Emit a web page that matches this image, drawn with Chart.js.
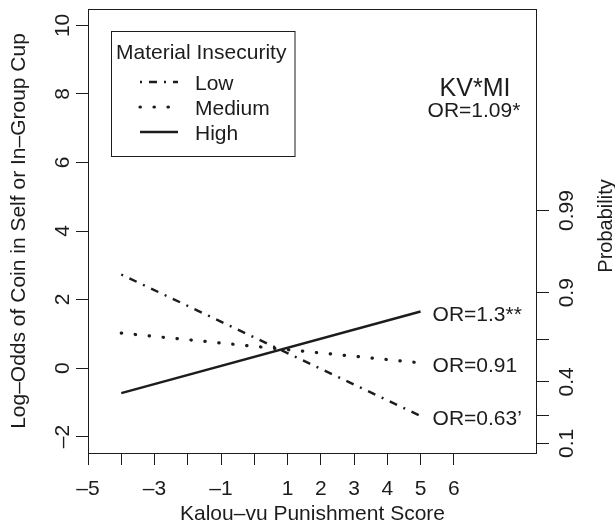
<!DOCTYPE html>
<html><head><meta charset="utf-8">
<script src="https://cdn.jsdelivr.net/npm/chart.js@4/dist/chart.umd.min.js"></script>
<style>html,body{margin:0;padding:0;background:#fff}canvas{display:block}</style>
</head><body>
<canvas id="c" width="615" height="528"></canvas>
<script>
// ---- data ----
const kvScore = [-4, 5];
const lowMI = [2.73, -1.40];
const mediumMI = [1.02, 0.15];
const highMI = [-0.73, 1.65];
const seriesNames = ['Low', 'Medium', 'High'];
const orLabels = ['OR=0.63’', 'OR=0.91', 'OR=1.3**'];
const xTicks = [-5, -4, -3, -2, -1, 0, 1, 2, 3, 4, 5, 6];
const xTickLabels = ['–5', '', '–3', '', '–1', '', '1', '2', '3', '4', '5', '6'];
const yTicks = [-2, 0, 2, 4, 6, 8, 10];
const yTickLabels = ['–2', '0', '2', '4', '6', '8', '10'];
const probTicks = [0.1, 0.2, 0.4, 0.7, 0.9, 0.99];
const probTickLabels = ['0.1', '', '0.4', '', '0.9', '0.99'];
const legendTitle = 'Material Insecurity';
const panelTitle = 'KV*MI';
const panelOR = 'OR=1.09*';
const xTitle = 'Kalou–vu Punishment Score';
const yTitle = 'Log–Odds of Coin in Self or In–Group Cup';
const y2Title = 'Probability';

const INK = '#1c1c1c';
const FONT = '"Liberation Sans", Arial, Helvetica, sans-serif';
const logit = p => Math.log(p / (1 - p));
const pts = ys => kvScore.map((x, i) => ({ x: x, y: ys[i] }));

const styles = [
  { borderWidth: 2.4, borderDash: [2, 7, 8, 7], borderCapStyle: 'butt' },
  { borderWidth: 3.2, borderDash: [0.4, 13.6], borderCapStyle: 'round' },
  { borderWidth: 2.4, borderDash: [], borderCapStyle: 'butt' }
];
const seriesData = [lowMI, mediumMI, highMI];

const datasets = seriesData.map((d, i) => Object.assign({
  label: seriesNames[i], data: pts(d), borderColor: INK, pointRadius: 0,
  fill: false, tension: 0, yAxisID: 'y'
}, styles[i]));

const gridOpts = { drawOnChartArea: false, drawTicks: true, tickLength: 12, color: INK, lineWidth: 1 };

const drawPlugin = {
  id: 'rstyle',
  afterDraw(chart) {
    const ctx = chart.ctx, a = chart.chartArea;
    const xs = chart.scales.x, ys = chart.scales.y, y2 = chart.scales.y2;
    ctx.save();
    ctx.strokeStyle = INK; ctx.fillStyle = INK; ctx.lineWidth = 1;
    // box
    ctx.strokeRect(a.left + 0.5, a.top + 0.5, a.right - a.left - 1, a.bottom - a.top);
    ctx.font = '21px ' + FONT;
    // x tick labels
    ctx.textAlign = 'center'; ctx.textBaseline = 'alphabetic';
    xTicks.forEach((v, i) => { if (xTickLabels[i]) ctx.fillText(xTickLabels[i], xs.getPixelForValue(v), 495); });
    // x title
    ctx.fillText(xTitle, (a.left + a.right) / 2, 520);
    // y tick labels (rotated)
    const rot = (txt, x, y, off) => { ctx.save(); ctx.translate(x, y); ctx.rotate(-Math.PI / 2); ctx.fillText(txt, 0, off); ctx.restore(); };
    yTicks.forEach((v, i) => rot(yTickLabels[i], 61, ys.getPixelForValue(v), 7.5));
    probTicks.forEach((p, i) => { if (probTickLabels[i]) rot(probTickLabels[i], 565, y2.getPixelForValue(logit(p)), 7.5); });
    rot(yTitle, 25, (a.top + a.bottom) / 2, 0);
    ctx.font = '20px ' + FONT;
    rot(y2Title, 612, 226, 0);
    // OR labels at line ends
    ctx.font = '21px ' + FONT; ctx.textAlign = 'left';
    seriesData.forEach((d, i) => {
      const last = d.length - 1;
      ctx.fillText(orLabels[i], xs.getPixelForValue(kvScore[last]) + 12, ys.getPixelForValue(d[last]) + 9);
    });
    // panel annotation
    ctx.textAlign = 'center';
    ctx.font = '25px ' + FONT; ctx.fillText(panelTitle, 475, 95.5);
    ctx.font = '21px ' + FONT; ctx.fillText(panelOR, 474, 116.5);
    // legend
    ctx.strokeRect(111.5, 31.5, 183.5, 125);
    ctx.textAlign = 'left';
    ctx.fillText(legendTitle, 116, 58.5);
    const rows = [82, 107, 132];
    datasets.forEach((ds, i) => {
      ctx.save();
      ctx.lineWidth = ds.borderWidth; ctx.setLineDash(ds.borderDash); ctx.lineCap = ds.borderCapStyle;
      ctx.beginPath(); ctx.moveTo(140, rows[i]); ctx.lineTo(178, rows[i]); ctx.stroke();
      ctx.restore();
      ctx.fillText(ds.label, 195, rows[i] + 7.5);
    });
    ctx.restore();
  }
};

new Chart(document.getElementById('c'), {
  type: 'line',
  data: { datasets: datasets },
  options: {
    responsive: false, animation: false, devicePixelRatio: 1,
    layout: { padding: { top: 9, left: 0, right: 0, bottom: 0 } },
    plugins: { legend: { display: false }, tooltip: { enabled: false } },
    scales: {
      x: {
        type: 'linear', min: -5, max: 8.5,
        afterBuildTicks: s => { s.ticks = xTicks.map(v => ({ value: v })); },
        afterFit: s => { s.height = 75; },
        grid: gridOpts, border: { display: false }, ticks: { display: false }
      },
      y: {
        type: 'linear', position: 'left', min: -2.48, max: 10.48,
        afterBuildTicks: s => { s.ticks = yTicks.map(v => ({ value: v })); },
        afterFit: s => { s.width = 88; },
        grid: gridOpts, border: { display: false }, ticks: { display: false }
      },
      y2: {
        type: 'linear', position: 'right', min: -2.48, max: 10.48,
        afterBuildTicks: s => { s.ticks = probTicks.map(p => ({ value: logit(p) })); },
        afterFit: s => { s.width = 78; },
        grid: gridOpts, border: { display: false }, ticks: { display: false }
      }
    }
  },
  plugins: [drawPlugin]
});
</script>
</body></html>
